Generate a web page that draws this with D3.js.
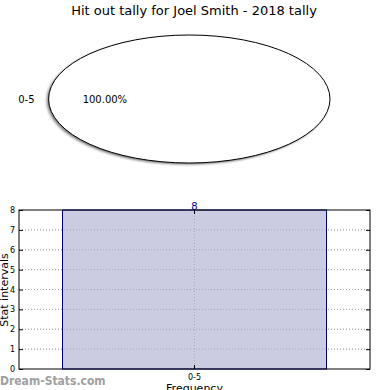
<!DOCTYPE html>
<html><head><meta charset="utf-8">
<script src="https://cdn.jsdelivr.net/npm/d3@7"></script>
<style>body{margin:0;background:#fff}svg{display:block;font-family:"DejaVu Sans",sans-serif}</style>
</head><body><svg id="c" width="390" height="390"></svg>
<script>
const title = "Hit out tally for Joel Smith - 2018 tally";
const categories = ["0-5"];
const values = [8];
const yTicks = [0,1,2,3,4,5,6,7,8];

const svg = d3.select("#c");
svg.append("rect").attr("width",390).attr("height",390).attr("fill","#fff");

svg.append("text").attr("x",194).attr("y",15).attr("text-anchor","middle")
  .attr("font-size",13).attr("fill","#000").text(title);

// Pie
const cx = 189.3, cy = 99, ry = 64, rx = 140.7, sx = rx/ry;
const pie = d3.pie().sort(null).startAngle(Math.PI/2).endAngle(Math.PI*2.5);
const arcs = pie(values);
const arc = d3.arc().innerRadius(0).outerRadius(ry);
const defs = svg.append("defs");
defs.append("filter").attr("id","blur").append("feGaussianBlur").attr("stdDeviation",0.8);
const pg = svg.append("g");
pg.selectAll("path.sh").data(arcs).join("path").attr("class","sh")
  .attr("transform",`translate(${cx-1.8},${cy+1.5}) scale(${sx},1)`)
  .attr("d",arc).attr("fill","#777").attr("filter","url(#blur)");
pg.selectAll("path.w").data(arcs).join("path").attr("class","w")
  .attr("transform",`translate(${cx},${cy}) scale(${sx},1)`)
  .attr("d",arc).attr("fill","#fff").attr("stroke","#000").attr("stroke-width",1)
  .attr("vector-effect","non-scaling-stroke");
const total = d3.sum(values);
arcs.forEach((a,i)=>{
  const mid=(a.startAngle+a.endAngle)/2;
  const ux=Math.sin(mid), uy=-Math.cos(mid);
  svg.append("text").attr("x",cx+ux*rx*1.1).attr("y",cy+uy*ry*1.1+3.5)
    .attr("text-anchor", ux<0?"end":"start").attr("font-size",10).text(categories[i]);
  svg.append("text").attr("x",cx+ux*rx*0.6).attr("y",cy+uy*ry*0.6+3.5)
    .attr("text-anchor","middle").attr("font-size",10)
    .text((values[i]/total*100).toFixed(2)+"%");
});

// Bar chart
const L=19,R=370,T=210,B=369;
const x = d3.scaleBand().domain(categories).range([L,R]).paddingInner(0).paddingOuter(0.1648);
const y = d3.scaleLinear().domain([0,8]).range([B,T]);
const g = svg.append("g");
// grid
g.selectAll("line.gy").data(yTicks.slice(1,-1)).join("line").attr("class","gy")
  .attr("x1",L).attr("x2",R).attr("y1",d=>y(d)).attr("y2",d=>y(d))
  .attr("stroke","#b0b0b0").attr("stroke-width",1).attr("stroke-dasharray","1,2");
g.selectAll("rect.bar").data(values).join("rect").attr("class","bar")
  .attr("x",(d,i)=>x(categories[i])).attr("width",x.bandwidth())
  .attr("y",d=>y(d)).attr("height",d=>B-y(d))
  .attr("fill","#cbcbe2").attr("stroke","#00008b").attr("stroke-width",1);
g.selectAll("line.gy2").data(yTicks.slice(1,-1)).join("line").attr("class","gy2")
  .attr("x1",L).attr("x2",R).attr("y1",d=>y(d)).attr("y2",d=>y(d))
  .attr("stroke","#a8a8b8").attr("stroke-width",1).attr("stroke-dasharray","1,2");
g.selectAll("line.gx").data(categories).join("line").attr("class","gx")
  .attr("x1",d=>x(d)+x.bandwidth()/2).attr("x2",d=>x(d)+x.bandwidth()/2)
  .attr("y1",T).attr("y2",B).attr("stroke","#a8a8b8").attr("stroke-dasharray","1,2");
g.append("rect").attr("x",L).attr("y",T).attr("width",R-L).attr("height",B-T)
  .attr("fill","none").attr("stroke","#000").attr("stroke-width",1);
// axes
const yAx = svg.append("g").attr("transform",`translate(${L},0)`)
  .call(d3.axisLeft(y).tickValues(yTicks).tickSize(-4).tickPadding(4).tickFormat(d3.format("d")));
yAx.select(".domain").remove();
yAx.selectAll("text").attr("font-size",8).attr("font-family","DejaVu Sans");
const yAxR = svg.append("g").attr("transform",`translate(${R},0)`)
  .call(d3.axisRight(y).tickValues(yTicks).tickSize(-4).tickFormat(""));
yAxR.select(".domain").remove();
const xAx = svg.append("g").attr("transform",`translate(0,${B})`)
  .call(d3.axisBottom(x).tickSize(-4).tickPadding(5));
xAx.select(".domain").remove();
xAx.selectAll("text").attr("font-size",8).attr("font-family","DejaVu Sans");
const xAxT = svg.append("g").attr("transform",`translate(0,${T})`)
  .call(d3.axisTop(x).tickSize(-4).tickFormat(""));
xAxT.select(".domain").remove();
// value label
g.selectAll("text.val").data(values).join("text").attr("class","val")
  .attr("x",(d,i)=>x(categories[i])+x.bandwidth()/2).attr("y",d=>y(d)-0.5)
  .attr("text-anchor","middle").attr("font-size",10).attr("fill","#00008b").text(d=>d);
svg.append("text").attr("x",194.5).attr("y",392).attr("text-anchor","middle")
  .attr("font-size",11).text("Frequency");
svg.append("text").attr("transform","translate(8,290) rotate(-90)").attr("text-anchor","middle")
  .attr("font-size",11).text("Stat intervals");
svg.append("text").attr("x",0).attr("y",385).attr("font-size",12).attr("font-weight","bold")
  .attr("fill","#a0a0a0").attr("font-family","'DejaVu Sans Condensed','DejaVu Sans',sans-serif").text("Dream-Stats.com");
</script></body></html>
